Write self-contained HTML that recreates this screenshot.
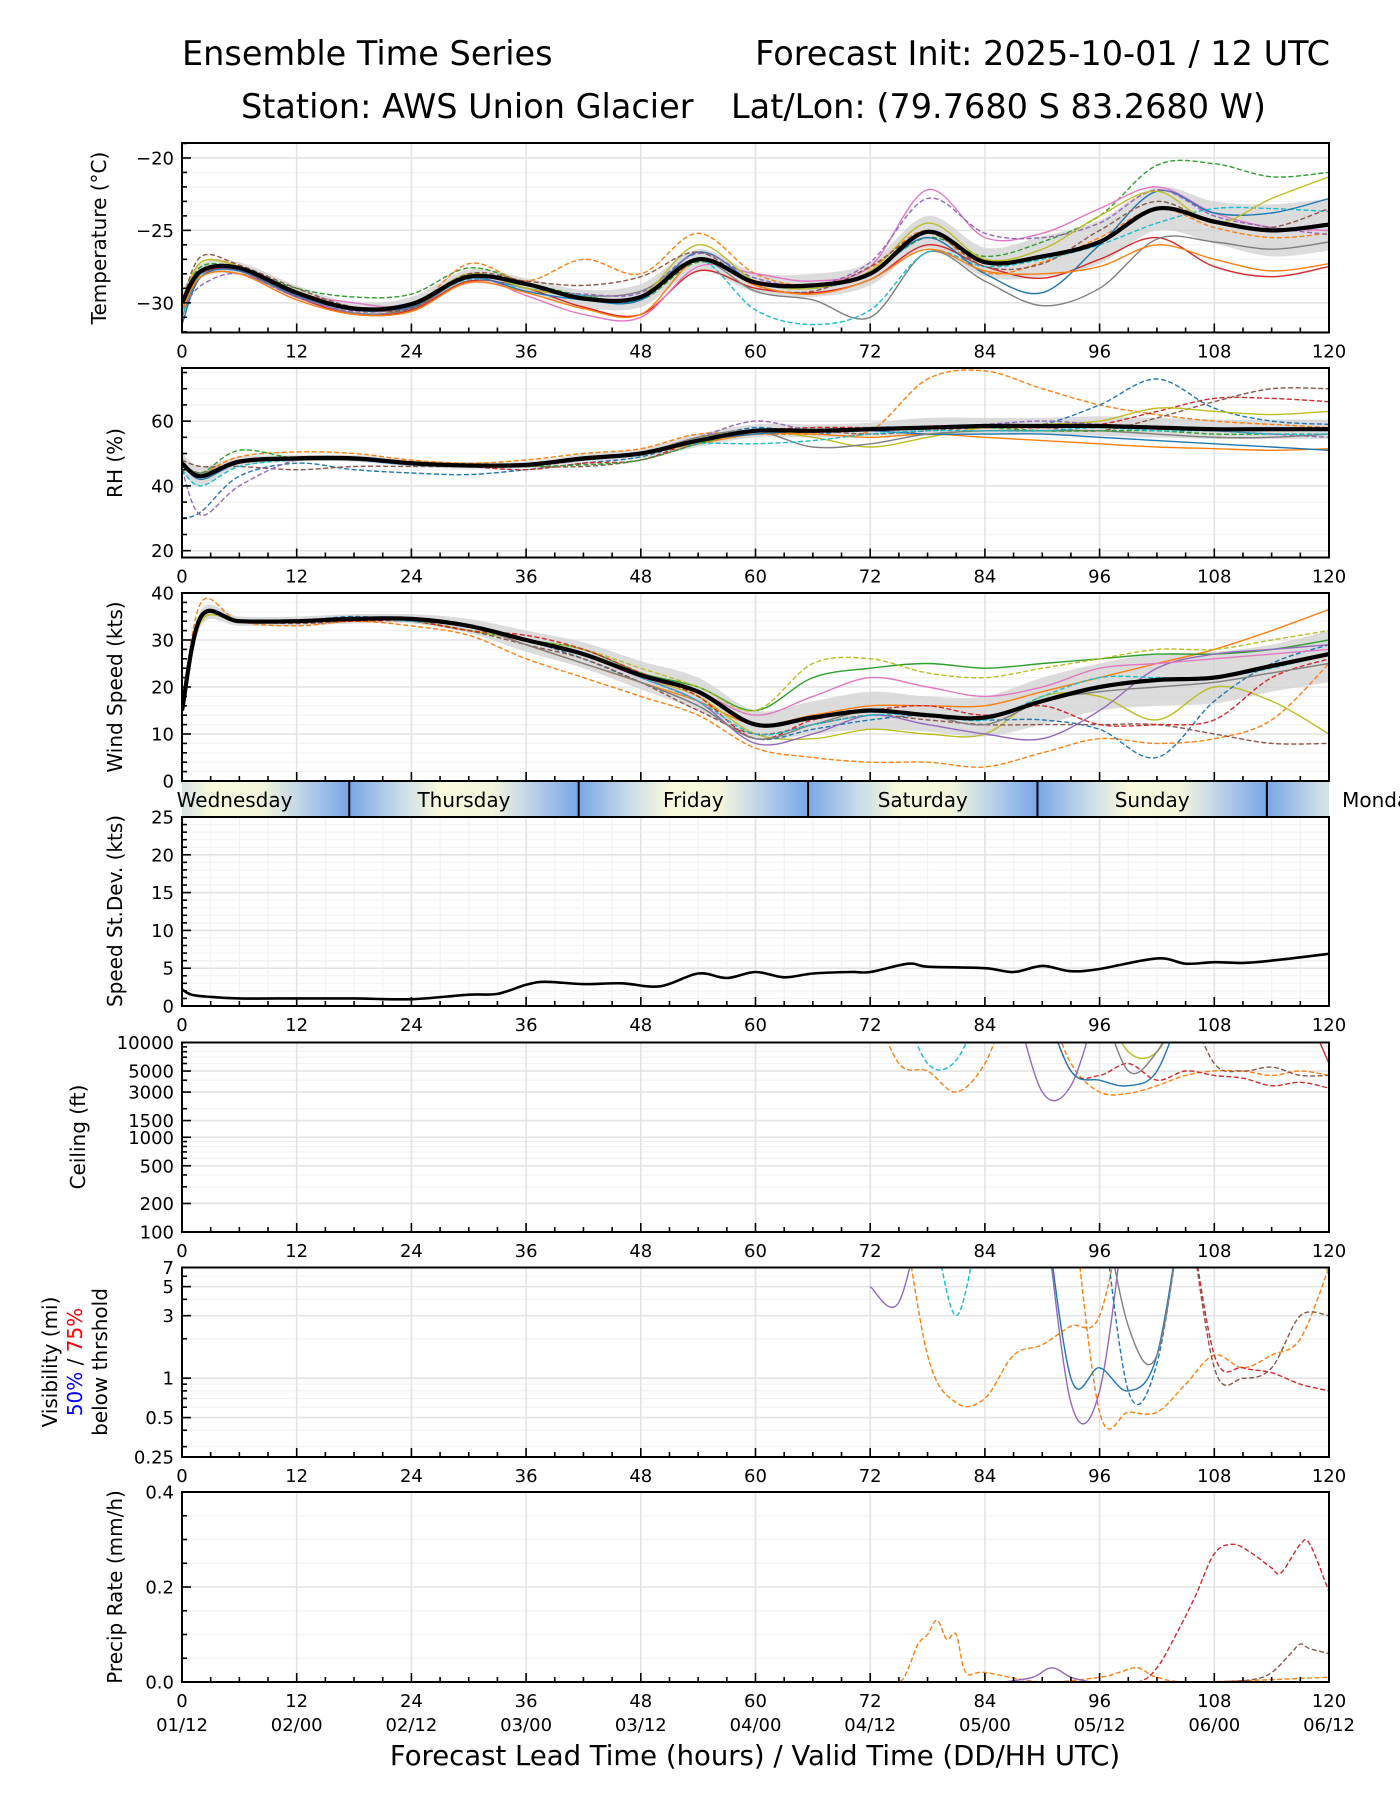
<!DOCTYPE html>
<html><head><meta charset="utf-8"><title>Ensemble Time Series</title>
<style>
html,body{margin:0;padding:0;background:#fff;overflow:hidden;}
svg{display:block;font-family:"DejaVu Sans","Liberation Sans",sans-serif;}
</style></head>
<body>
<svg id="chart" width="1400" height="1800" viewBox="0 0 1400 1800" xmlns="http://www.w3.org/2000/svg">
<defs>
<linearGradient id="dayg" x1="0" y1="0" x2="1" y2="0">
<stop offset="0" stop-color="#78a6e6"/><stop offset="0.22" stop-color="#c9dbe8"/><stop offset="0.4" stop-color="#fafadc"/><stop offset="0.62" stop-color="#f4f6dc"/><stop offset="0.85" stop-color="#a9c6ea"/><stop offset="1" stop-color="#78a6e6"/>
</linearGradient>
</defs>
<text x="182" y="65" font-size="33.5">Ensemble Time Series</text>
<text x="1330" y="65" font-size="33.5" text-anchor="end">Forecast Init: 2025-10-01 / 12 UTC</text>
<text x="241" y="118" font-size="33.5">Station: AWS Union Glacier</text>
<text x="731" y="118" font-size="33.5">Lat/Lon: (79.7680 S 83.2680 W)</text>
<text x="755" y="1765" font-size="27.5" text-anchor="middle">Forecast Lead Time (hours) / Valid Time (DD/HH UTC)</text>
</svg>
<script>
// ---------- data ----------
const H = [0,2,6,12,18,24,30,36,42,48,54,60,66,72,78,84,90,96,102,108,114,120];
const xTickLabels = ['0','12','24','36','48','60','72','84','96','108','120'];
const dateLabels = ['01/12','02/00','02/12','03/00','03/12','04/00','04/12','05/00','05/12','06/00','06/12'];
const dayNames = ['Wednesday','Thursday','Friday','Saturday','Sunday','Monday'];
const dayStarts = [-6.5,17.5,41.5,65.5,89.5,113.5];

const tempMean = [-30,-27.8,-27.6,-29.3,-30.4,-30.1,-28.2,-28.7,-29.7,-29.6,-27.0,-28.6,-28.8,-28.0,-25.1,-27.2,-26.8,-25.8,-23.5,-24.4,-25.0,-24.6];
const tempLo = [-30.8,-28.3,-28.0,-29.8,-30.8,-30.6,-28.7,-29.3,-30.3,-30.3,-27.8,-29.3,-29.6,-28.8,-26.2,-28.2,-28.2,-27.3,-25.0,-25.9,-26.8,-26.4];
const tempHi = [-29.2,-27.3,-27.2,-28.8,-30.0,-29.6,-27.7,-28.3,-29.1,-28.7,-26.3,-27.9,-28.0,-27.2,-24.0,-26.2,-25.4,-24.3,-22.0,-23.0,-23.2,-22.8];
const tGreenD = [-30,-27.5,-27.6,-29.0,-29.6,-29.4,-27.6,-28.6,-29.5,-29.8,-27.2,-28.5,-29.0,-27.9,-25.5,-26.8,-25.8,-24.0,-20.5,-20.4,-21.3,-21.0];
const tOrangeD = [-30,-27.2,-27.5,-29.5,-30.3,-30.4,-27.3,-28.5,-27.0,-28.0,-25.2,-28.0,-28.8,-27.6,-25.0,-27.9,-27.2,-25.5,-23.5,-24.8,-25.5,-25.2];
const tRed = [-30.5,-28,-27.8,-29.6,-30.8,-30.5,-28.5,-29.0,-30.3,-30.8,-27.8,-29.0,-29.3,-28.4,-26.0,-27.5,-28.3,-27.0,-25.5,-27.5,-28.2,-27.5];
const tPink = [-30,-27.8,-27.6,-29.3,-30.0,-30.2,-28.2,-29.5,-30.8,-31.0,-27.5,-28.0,-28.5,-27.5,-22.2,-25.5,-25.2,-23.5,-22.0,-23.8,-24.8,-25.0];
const tGray = [-31,-28.2,-28,-29.5,-30.7,-30.4,-28.3,-28.8,-29.5,-29.2,-27.0,-29.2,-29.8,-31.0,-26.5,-28.5,-30.2,-29.0,-25.6,-25.8,-26.3,-25.8];
const tCyanD = [-31,-28,-27.6,-29.4,-30.5,-30.2,-28.4,-29.0,-29.5,-29.8,-27.0,-30.5,-31.5,-30.5,-26.5,-27.5,-27.0,-26.0,-24.5,-23.5,-23.5,-23.7];
const tBlue = [-31.5,-28.2,-27.8,-29.5,-30.5,-30.3,-28.3,-29.2,-29.8,-29.8,-26.5,-28.6,-29.0,-28.0,-25.5,-28.0,-29.3,-26.0,-22.3,-23.8,-23.8,-22.8];
const tPurpleD = [-30.5,-28.8,-28.0,-29.6,-30.6,-30.2,-28.0,-29.0,-29.4,-29.3,-26.6,-28.3,-28.8,-27.2,-22.8,-25.2,-25.5,-24.5,-22.2,-24.0,-24.8,-25.3];
const tOlive = [-30,-27.2,-27.5,-29.2,-30.3,-30.2,-28.0,-29.0,-29.6,-29.5,-26.0,-28.5,-29.0,-27.8,-24.5,-27.0,-26.3,-24.0,-22.3,-24.5,-22.8,-21.3];
const tBrownD = [-30,-26.8,-27.4,-29.0,-30.3,-30.4,-28.0,-28.5,-28.8,-28.2,-26.5,-28.8,-29.2,-27.5,-25.2,-27.5,-27.3,-25.0,-23.0,-24.5,-24.8,-23.5];
const tOrange = [-30.5,-28.2,-28,-29.8,-30.8,-30.6,-28.6,-29.3,-30.4,-30.8,-27.0,-28.8,-29.4,-28.4,-26.3,-27.8,-28.0,-27.5,-26.0,-27.0,-27.8,-27.3];

const rhMean = [47,43,47.5,48.5,48.5,47,46.3,46.5,48.5,50,54,57,57,57.5,58,58.5,58.5,58.5,58,57.5,57.5,57.5];
const rhLo = [44,40,46,47.5,47.5,46,45.3,45.5,47.3,48.5,52,55,55,55.5,55.5,56,56,55.5,55,54.5,54.5,54.5];
const rhHi = [50,46,49,49.5,49.5,48,47.3,47.5,49.7,51.5,56,59,59,59.5,61,61,61,61.5,61,60.5,60.5,60.5];
const rOrangeD = [46,44,49,50.5,50,48,47,48,50,51.5,56,56,56,57,73,75.5,70,65,62,60,59,58];
const rBlueD = [30,32,43,47,45,44,43.5,45,47,49,54,58,56,58,58,58,59,65,73,64,60,59];
const rRedD = [47,44,47,48.5,48,47,46,45,47,48,54,57,58,58,58,58,58,59,63,67,67,66];
const rBrownD = [48,46,46,45,46,46,46,46,46,48,53,57,57,56,57,58,58,57,61,66,70,70];
const rOlive = [47,43,47,48.5,48.5,47,46,46.5,48,50,55,57,55,52,55,58,59,60,64,63,62,63];
const rOrange = [47,43,47,48,48,47,46,46.5,48,50,53,56,56,55,56,55,54,53,52,51.5,51,51.5];
const rBlue = [47,42,47,48,48,46.5,46,46.5,48,50,54,56,57,57,56,56,56,55,54,53,52,51];
const rPurpleD = [45,31,40,48,48,47,46,46,48,50,55,60,57,57,58,59,60,59,58,57,56,55];
const rGray = [47,44,47.5,48,48,47,46.5,46.5,48.5,50,55,57,52,53,56,57,57,57,56,55,55,56];
const rGreenD = [47,44,51,48.5,48.5,47,46,46,46.5,48,53,57,57,58,58,58,57,57,57,56,56,56];
const rCyanD = [45,40,46,48,48,47,46,46.5,48,50,53,53,54,56,57,57,57,58,57,57,56,56];

const windMean = [15,35,34,34,34.5,34.5,33,30,27,22.5,19,12,13.5,15,14,13.5,17,20,21.5,22,24.5,27];
const windLo = [13,33,33,33,33.5,33.5,31.5,27.5,24,19.5,15,9,10,11,10.5,9.5,12,15,16,16.5,19,21];
const windHi = [17,36.5,35,35,35.5,35.5,34.5,32,29.5,25.5,22,15,17,19,18,18,22,25,27,27.5,29,32];
const wOrange = [15,35,34,34,34.5,34,33,29,25,21,17,12,14,16,16,16,19,22,25,28,32,36.5];
const wOrangeD = [15,38,34,33,34,33,31,26,22,18,14,7,5,4,4,3,6,9,8,9,13,25];
const wGreen = [15,35,34,34,34.5,34,32,30,28,23,20,15,22,24,25,24,25,26,27,27,28,30];
const wOliveD = [15,34,34,34,34.5,34,32,30,28,24,20,15,25,26,23,22,24,26,28,28,30,32];
const wOlive = [15,34,34,34,34.5,34,33,30,27,22,18,10,9,11,10,10,18,18,13,20,17,10];
const wBlueD = [15,35,34,34,35,34,33,30,26,21,16,9,11,13,14,13,13,11,5,17,25,29];
const wBrownD = [15,35,34,33.5,34,34,32,29,26,21,15,10,12,14,13,12,12,12,12,10,8,8];
const wPurple = [15,35,34,34,34.5,34,33,30,27,22,17,8,10,14,12,10,9,15,24,27,28,29];
const wRedD = [15,35,34,34,34,34,32,31,28,23,18,9,13,15,16,14,16,12,12,13,22,26];
const wPink = [15,35,34,34,34.5,34,33,30,27,22,19,14,18,22,20,18,20,24,25,26,27,28];
const wGray = [15,35,34,34,34.5,34,33,29,25,21,16,9,12,15,14,12,17,19,20,21,23,25];
const wCyanD = [15,35,34,34,34.5,34,33,30,27,22,17,10,12,14,14,13,18,22,22,22,24,27];

const sdHours = [0,1,3,6,12,18,24,30,33,36,38,42,46,50,54,57,60,63,66,70,72,76,78,84,87,90,93,96,102,105,108,111,114,120];
const sdValues = [2.2,1.5,1.2,1.0,1.0,1.0,0.9,1.5,1.6,2.8,3.2,2.9,3.0,2.6,4.3,3.7,4.5,3.8,4.3,4.5,4.5,5.6,5.2,5.0,4.5,5.3,4.6,4.9,6.3,5.6,5.8,5.7,6.0,6.9];

const CH = [72,75,78,81,84,87,90,93,96,99,102,105,108,111,114,117,120];
const N = null;
const cOrangeD = [30000,6000,5000,3000,6000,30000,30000,6000,3000,2900,3500,4500,5000,5000,4500,5000,4500];
const cCyanD = [N,30000,6000,6500,30000,N,N,N,N,N,N,N,N,N,N,N,N];
const cPurple = [N,N,N,N,N,30000,3000,3500,30000,N,N,N,N,N,N,N,N];
const cRedD = [N,N,N,N,N,N,30000,5000,4500,6000,4000,5000,4500,4200,3500,3800,3300];
const cBrownD = [N,N,N,N,N,N,N,N,N,N,N,30000,6000,5000,5500,4500,4500];
const cBlue = [N,N,N,N,N,N,30000,5000,4000,3500,5000,30000,N,N,N,N,N];
const cOlive = [N,N,N,N,N,N,N,N,30000,8000,8000,30000,N,N,N,N,N];
const cGray = [N,N,N,N,N,N,N,N,30000,5000,8000,30000,N,N,N,N,N];
const cRed = [N,N,N,N,N,N,N,N,N,N,N,N,N,N,N,30000,6000];

const vOrangeA = [N,30,1.5,0.65,0.7,1.5,1.8,2.5,3,30,N,N,N,N,N,N,N];
const vOrangeB = [N,N,N,N,N,N,N,30,0.55,0.55,0.55,0.9,1.5,1.2,1.5,2,7];
const vCyanD = [N,N,30,3,30,N,N,N,N,N,N,N,N,N,N,N,N];
const vPurple = [5,3.8,30,N,N,N,30,0.65,0.8,30,N,N,N,N,N,N,N];
const vBlue = [N,N,N,N,N,N,30,1.0,1.2,0.8,1.5,30,N,N,N,N,N];
const vBlueD = [N,N,N,N,N,N,N,N,30,0.8,1.3,30,N,N,N,N,N];
const vGray = [N,N,N,N,N,N,N,N,30,2.5,1.5,30,N,N,N,N,N];
const vRedD = [N,N,N,N,N,N,N,N,N,N,N,30,1.5,1.2,1.1,0.9,0.8];
const vBrownD = [N,N,N,N,N,N,N,N,N,N,N,30,1.2,1.0,1.2,3,3];
const vOlive = [N,N,N,N,N,N,N,N,N,N,N,N,N,N,N,30,6];

const pRedH = [96,100,102,104,106,108,110,112,114,115,117,118,120];
const pRedV = [0,0,0.03,0.1,0.18,0.27,0.29,0.27,0.24,0.23,0.29,0.29,0.19];
const pOrangeH = [72,75,76,77,78,79,80,81,82,84,90,96,98,100,102,106,120];
const pOrangeV = [0,0,0.03,0.08,0.1,0.13,0.09,0.1,0.02,0.02,0,0.01,0.02,0.03,0.01,0,0.01];
const pBrownH = [108,112,114,116,117,118,120];
const pBrownV = [0,0.005,0.02,0.06,0.08,0.07,0.06];
const pPurpleH = [86,89,91,93,95];
const pPurpleV = [0,0.01,0.03,0.01,0];

// ---------- drawing ----------
const NS = 'http://www.w3.org/2000/svg';
const svg = document.getElementById('chart');
function mk(tag, attrs, parent){ const e = document.createElementNS(NS, tag); for (const k in attrs) e.setAttribute(k, attrs[k]); (parent || svg).appendChild(e); return e; }
const X0 = 182, X1 = 1329;
function X(h){ return X0 + h * (X1 - X0) / 120; }
function makeY(p){ return v => p.log ? p.bottom - (Math.log(v) - Math.log(p.min)) / (Math.log(p.max) - Math.log(p.min)) * (p.bottom - p.top) : p.bottom - (v - p.min) / (p.max - p.min) * (p.bottom - p.top); }
function spline(pts){ if (pts.length < 2) return ''; let d = 'M' + pts[0][0].toFixed(1) + ',' + pts[0][1].toFixed(1);
  for (let i = 0; i < pts.length - 1; i++){ const p0 = pts[Math.max(0, i-1)], p1 = pts[i], p2 = pts[i+1], p3 = pts[Math.min(pts.length-1, i+2)];
    const c1x = p1[0] + (p2[0]-p0[0])/6, c1y = p1[1] + (p2[1]-p0[1])/6, c2x = p2[0] - (p3[0]-p1[0])/6, c2y = p2[1] - (p3[1]-p1[1])/6;
    d += 'C' + c1x.toFixed(1)+','+c1y.toFixed(1)+' '+c2x.toFixed(1)+','+c2y.toFixed(1)+' '+p2[0].toFixed(1)+','+p2[1].toFixed(1); }
  return d; }
function segments(hs, vs, Y){ const out = []; let cur = [];
  for (let i = 0; i < hs.length; i++){ if (vs[i] === null){ if (cur.length) out.push(cur); cur = []; } else cur.push([X(hs[i]), Y(vs[i])]); }
  if (cur.length) out.push(cur); return out; }

let clipN = 0;
function panel(p, name, yTicks, yTickText, yMinor, xMinorGrid, noXLabels){
  const Y = makeY(p);
  const g = mk('g', {});
  
  
  const cid = 'clip' + (clipN++);
  const cp = mk('clipPath', {id: cid}, g);
  mk('rect', {x: X0, y: p.top, width: X1 - X0, height: p.bottom - p.top}, cp);
  const grid = mk('g', {}, g);
  
  
  yMinor.forEach(v => { mk('line', {x1: X0, x2: X1, y1: Y(v), y2: Y(v), stroke: '#f2f2f2', 'stroke-width': 1.2}, grid); });
  if (xMinorGrid) for (let h = 3; h < 120; h += 3) mk('line', {x1: X(h), x2: X(h), y1: p.top, y2: p.bottom, stroke: '#f2f2f2', 'stroke-width': 1.2}, grid);
  for (let h = 12; h < 120; h += 12) mk('line', {x1: X(h), x2: X(h), y1: p.top, y2: p.bottom, stroke: '#e3e3e3', 'stroke-width': 1.6}, grid);
  yTicks.forEach(v => { mk('line', {x1: X0, x2: X1, y1: Y(v), y2: Y(v), stroke: '#e3e3e3', 'stroke-width': 1.6}, grid); });
  const plot = mk('g', {'clip-path': 'url(#' + cid + ')'}, g);
  
  
  const frame = mk('rect', {x: X0, y: p.top, width: X1 - X0, height: p.bottom - p.top, fill: 'none', stroke: '#000', 'stroke-width': 2}, g);
  
  
  const ticks = mk('g', {stroke: '#000', 'stroke-width': 1.6}, g);
  
  
  for (let h = 0; h <= 120; h += 3){ const L = h % 12 === 0 ? 9 : 5; mk('line', {x1: X(h), x2: X(h), y1: p.bottom, y2: p.bottom - L}, ticks); }
  yTicks.forEach(v => mk('line', {x1: X0, x2: X0 + 9, y1: Y(v), y2: Y(v)}, ticks));
  yMinor.forEach(v => mk('line', {x1: X0, x2: X0 + 5, y1: Y(v), y2: Y(v)}, ticks));
  const yl = mk('g', {'font-size': 18, 'text-anchor': 'end'}, g);
  
  
  yTicks.forEach((v, i) => { const t = mk('text', {x: X0 - 8, y: Y(v) + 6.5}, yl); t.textContent = yTickText[i]; });
  if (!noXLabels){
    const xl = mk('g', {'font-size': 18, 'text-anchor': 'middle'}, g);
    
    
    xTickLabels.forEach((s, i) => { const t = mk('text', {x: X(i * 12), y: p.bottom + 25}, xl); t.textContent = s; });
  }
  return {Y, plot, g};
}
function band(P, hs, lo, hi, name){ const up = hs.map((h, i) => [X(h), P.Y(hi[i])]); const dn = hs.map((h, i) => [X(h), P.Y(lo[i])]).reverse();
  const d = spline(up) + 'L' + dn[0][0] + ',' + dn[0][1] + spline(dn).replace(/^M[^C]*/, '') + 'Z';
  const e = mk('path', {d: d, fill: '#d0d0d0', 'fill-opacity': 0.75, stroke: 'none'}, P.plot);
  
   }
function series(P, hs, vs, color, dashed, name, width){ segments(hs, vs, P.Y).forEach(seg => {
  const e = mk('path', {d: spline(seg), fill: 'none', stroke: color, 'stroke-width': width || 1.4, 'stroke-dasharray': dashed ? '5,2.5' : 'none', 'stroke-linejoin': 'round'}, P.plot);
  
   }); }
function ylabel(lines, x, cy, name){ lines.forEach((ln, i) => {
  const t = mk('text', {transform: 'translate(' + (x + i * 25) + ',' + cy + ') rotate(-90)', 'font-size': 20, 'text-anchor': 'middle'});
  
  
  ln.forEach(part => { const s = mk('tspan', {fill: part[1]}, t); s.textContent = part[0]; }); }); }
const C = {blue:'#1f77b4', orange:'#ff7f0e', green:'#2ca02c', red:'#d62728', purple:'#9467bd', brown:'#8c564b', pink:'#e377c2', gray:'#7f7f7f', olive:'#bcbd22', cyan:'#17becf'};
function range(a, b, s, skip){ const r = []; for (let v = a; v <= b + 1e-9; v += s){ const vv = Math.round(v*1000)/1000; if (!skip.includes(vv)) r.push(vv); } return r; }

// Temperature
const pT = panel({top:143, bottom:332.5, min:-32.05, max:-18.97}, 'temperature', [-30,-25,-20], ['\u221230','\u221225','\u221220'], range(-32,-19,1,[-30,-25,-20]), false);
band(pT, H, tempLo, tempHi, 'temperature-spread');
[[tGreenD,C.green,1],[tOrangeD,C.orange,1],[tRed,C.red,0],[tPink,C.pink,0],[tGray,C.gray,0],[tCyanD,C.cyan,1],[tBlue,C.blue,0],[tPurpleD,C.purple,1],[tOlive,C.olive,0],[tBrownD,C.brown,1],[tOrange,C.orange,0]].forEach(m => series(pT, H, m[0], m[1], m[2], 'temperature-member'));
series(pT, H, tempMean, '#000', false, 'temperature-mean', 4.2);
ylabel([[['Temperature (\u00b0C)','#000']]], 106, 238, 'temperature-y-title');

// RH
const pR = panel({top:368, bottom:557.5, min:17.9, max:76.4}, 'rh', [20,40,60], ['20','40','60'], range(20,75,5,[20,40,60]), false);
band(pR, H, rhLo, rhHi, 'rh-spread');
[[rOrangeD,C.orange,1],[rBlueD,C.blue,1],[rRedD,C.red,1],[rBrownD,C.brown,1],[rOlive,C.olive,0],[rOrange,C.orange,0],[rBlue,C.blue,0],[rPurpleD,C.purple,1],[rGray,C.gray,0],[rGreenD,C.green,1],[rCyanD,C.cyan,1]].forEach(m => series(pR, H, m[0], m[1], m[2], 'rh-member'));
series(pR, H, rhMean, '#000', false, 'rh-mean', 4.2);
ylabel([[['RH (%)','#000']]], 122, 463, 'rh-y-title');

// Wind
const pW = panel({top:593, bottom:781, min:0, max:40}, 'wind', [0,10,20,30,40], ['0','10','20','30','40'], range(0,40,2,[0,10,20,30,40]), false, true);
band(pW, H, windLo, windHi, 'wind-spread');
[[wOrange,C.orange,0],[wOrangeD,C.orange,1],[wGreen,C.green,0],[wOliveD,C.olive,1],[wOlive,C.olive,0],[wBlueD,C.blue,1],[wBrownD,C.brown,1],[wPurple,C.purple,0],[wRedD,C.red,1],[wPink,C.pink,0],[wGray,C.gray,0],[wCyanD,C.cyan,1]].forEach(m => series(pW, H, m[0], m[1], m[2], 'wind-member'));
series(pW, H, windMean, '#000', false, 'wind-mean', 4.2);
ylabel([[['Wind Speed (kts)','#000']]], 122, 687, 'wind-y-title');

// Day band
(function(){
  const g = mk('g', {});
  
  
  const cp = mk('clipPath', {id: 'dayclip'}, g);
  mk('rect', {x: X0, y: 782, width: X1 - X0, height: 35}, cp);
  const inner = mk('g', {'clip-path': 'url(#dayclip)'}, g);
  dayStarts.forEach((s, i) => {
    const r = mk('rect', {x: X(s), y: 782, width: X(s + 24) - X(s), height: 35, fill: 'url(#dayg)'}, inner);
    
    
    if (s > 0){ const l = mk('line', {x1: X(s), x2: X(s), y1: 782, y2: 817, stroke: '#000', 'stroke-width': 2}, inner);
      
       }
  });
  dayStarts.forEach((s, i) => {
    const t = mk('text', {x: X(s + 12), y: 807, 'font-size': 20, 'text-anchor': 'middle'}, g);
    
    
    t.textContent = dayNames[i];
  });
})();

// Speed stdev
const pS = panel({top:817, bottom:1006, min:0, max:25}, 'speed-stdev', [0,5,10,15,20,25], ['0','5','10','15','20','25'], range(0,25,1,[0,5,10,15,20,25]), true);
series(pS, sdHours, sdValues, '#000', false, 'speed-stdev-line', 2.6);
ylabel([[['Speed St.Dev. (kts)','#000']]], 122, 911, 'speed-stdev-y-title');

// Ceiling
const pC = panel({top:1042.5, bottom:1232, min:100, max:10000, log:true}, 'ceiling', [100,200,500,1000,1500,3000,5000,10000], ['100','200','500','1000','1500','3000','5000','10000'], [300,400,600,700,800,900,2000,4000,6000,7000,8000,9000], false);
[[cOrangeD,C.orange,1],[cCyanD,C.cyan,1],[cPurple,C.purple,0],[cRedD,C.red,1],[cBrownD,C.brown,1],[cBlue,C.blue,0],[cOlive,C.olive,0],[cGray,C.gray,0],[cRed,C.red,0]].forEach(m => series(pC, CH, m[0], m[1], m[2], 'ceiling-member'));
ylabel([[['Ceiling (ft)','#000']]], 85, 1137, 'ceiling-y-title');

// Visibility
const pV = panel({top:1267.5, bottom:1457, min:0.25, max:7, log:true}, 'visibility', [0.25,0.5,1,3,5,7], ['0.25','0.5','1','3','5','7'], [0.3,0.4,0.6,0.7,0.8,0.9,2,4,6], false);
[[vOrangeA,C.orange,1],[vOrangeB,C.orange,1],[vCyanD,C.cyan,1],[vPurple,C.purple,0],[vBlue,C.blue,0],[vBlueD,C.blue,1],[vGray,C.gray,0],[vRedD,C.red,1],[vBrownD,C.brown,1],[vOlive,C.olive,0]].forEach(m => series(pV, CH, m[0], m[1], m[2], 'visibility-member'));
ylabel([[['Visibility (mi)','#000']],[['50%','#0000ff'],[' / ','#000'],['75%','#ff0000']],[['below thrshold','#000']]], 57, 1362, 'visibility-y-title');

// Precip
const pP = panel({top:1492, bottom:1682, min:0, max:0.4}, 'precip', [0,0.2,0.4], ['0.0','0.2','0.4'], [0.05,0.1,0.15,0.25,0.3,0.35], false);
series(pP, pOrangeH, pOrangeV, C.orange, true, 'precip-member');
series(pP, pPurpleH, pPurpleV, C.purple, false, 'precip-member');
series(pP, pBrownH, pBrownV, C.brown, true, 'precip-member');
series(pP, pRedH, pRedV, C.red, true, 'precip-member');
ylabel([[['Precip Rate (mm/h)','#000']]], 122, 1587, 'precip-y-title');
(function(){ const g = mk('g', {'font-size': 18, 'text-anchor': 'middle'});
  
  
  dateLabels.forEach((s, i) => { const t = mk('text', {x: X(i * 12), y: 1731}, g); t.textContent = s; }); })();
</script>
</body></html>
